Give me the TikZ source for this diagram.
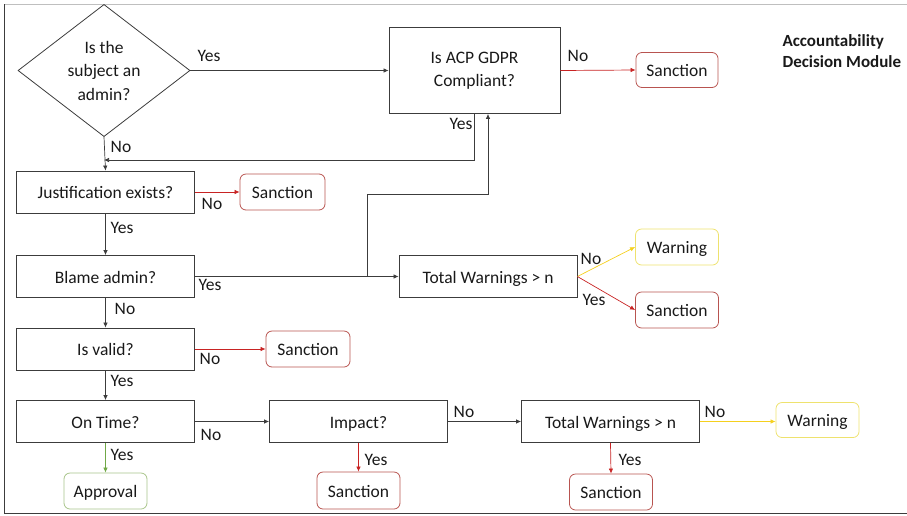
\documentclass[tikz,border=0pt]{standalone}
\usepackage{fontspec}
\setmainfont{Carlito}
\usetikzlibrary{shapes.geometric,arrows.meta}

\definecolor{sancred}{RGB}{184,84,80}
\definecolor{arrred}{RGB}{200,35,35}
\definecolor{warnyel}{RGB}{238,226,110}
\definecolor{arryel}{RGB}{245,208,30}
\definecolor{apgreen}{RGB}{168,196,138}
\definecolor{arrgreen}{RGB}{112,168,70}
\definecolor{boxgray}{RGB}{60,60,60}

\tikzset{
  txt/.style={font=\fontsize{17.5}{23.5}\selectfont, text=black!90},
  oneline/.style={text height=13pt, text depth=0pt},
  box/.style={txt, draw=boxgray, line width=0.8pt, minimum width=178pt, minimum height=42pt, align=center},
  decision/.style={txt, draw=boxgray, line width=0.8pt, diamond, inner sep=0pt, minimum width=172pt, minimum height=123pt, align=center},
  endbox/.style={txt, oneline, draw, line width=0.8pt, rounded corners=6pt, minimum width=83pt, minimum height=36pt},
  sanction/.style={endbox, draw=sancred},
  warning/.style={endbox, draw=warnyel},
  approval/.style={endbox, draw=apgreen},
  lbl/.style={txt, inner sep=0pt},
  arr/.style={draw=boxgray, line width=0.7pt, -{Latex[length=5pt,width=4.5pt]}},
  redarr/.style={arr, draw=arrred},
  yelarr/.style={arr, draw=arryel},
  greenarr/.style={arr, draw=arrgreen}
}

\begin{document}
\begin{tikzpicture}[x=1pt, y=-1pt]
  \useasboundingbox (0,0) rectangle (907,515);

  % frame
  \draw[black!25, line width=0.8pt] (4,4) -- (907,4);
  \draw[boxgray, line width=0.9pt] (4,4) -- (4,513) -- (907,513);

  % left column
  \node[decision] (admin) at (104,70.5) {Is the\\subject an\\admin?};
  \node[box, oneline] (justif) at (105.5,192) {Justification exists?};
  \node[box, oneline] (blame) at (105.5,276.5) {Blame admin?};
  \node[box, oneline] (valid) at (105.5,349) {Is valid?};
  \node[box, oneline] (ontime) at (105.5,421.5) {On Time?};
  \node[approval] (appr) at (105.5,491) {Approval};

  % upper right
  \node[box, minimum width=171pt, minimum height=86pt] (acp) at (474.5,70.5) {Is ACP GDPR\\Compliant?};
  \node[sanction, minimum width=82pt, minimum height=35pt] (sancA) at (677,70) {Sanction};
  \node[txt, font=\fontsize{17}{21}\selectfont\bfseries, align=left, anchor=west] (title) at (779,51) {Accountability\\Decision Module};

  \node[sanction, minimum width=85pt] (sancB) at (282.5,192) {Sanction};
  \node[box, oneline] (twA) at (488,276.5) {Total Warnings > n};
  \node[warning] (warnA) at (677,247) {Warning};
  \node[sanction] (sancC) at (677,310) {Sanction};
  \node[sanction, minimum width=84pt] (sancD) at (308,349) {Sanction};

  % bottom row
  \node[box, oneline] (impact) at (358.5,421.5) {Impact?};
  \node[box, oneline] (twB) at (610.5,421.5) {Total Warnings > n};
  \node[warning, minimum height=35pt] (warnB) at (817.5,420) {Warning};
  \node[sanction, minimum height=37pt] (sancE) at (358.5,490.5) {Sanction};
  \node[sanction] (sancF) at (611,492) {Sanction};

  \coordinate (split) at (367,276.5);
  \coordinate (bend) at (367,194);
  \coordinate (back) at (474.5,160);

  % connectors
  \draw[arr] (admin.east) -- (acp.west);
  \draw[arr] (admin.south) -- (justif.north);
  \draw[redarr] (acp.east) -- (sancA.west);
  \draw[arr] (acp.south) -- (back) -- (back -| admin.south);
  \draw[redarr] (justif.east) -- (sancB.west);
  \draw[arr] (justif.south) -- (blame.north);
  \draw[arr] (blame.east) -- (twA.west);
  \draw[arr] (split) -- (bend) -| (acp.south -| twA.north);
  \draw[yelarr] (twA.east) -- (warnA.west);
  \draw[redarr] (twA.east) -- (sancC.west);
  \draw[arr] (blame.south) -- (valid.north);
  \draw[redarr] (valid.east) -- (sancD.west);
  \draw[arr] (valid.south) -- (ontime.north);
  \draw[greenarr] (ontime.south) -- (appr.north);
  \draw[arr] (ontime.east) -- (impact.west);
  \draw[redarr] (impact.south) -- (sancE.north);
  \draw[arr] (impact.east) -- (twB.west);
  \draw[redarr] (twB.south) -- (sancF.north);
  \draw[yelarr] (twB.east) -- (twB.east -| warnB.west);

  % branch labels
  \node[lbl] (yAdmin) at (209,56) {Yes};
  \node[lbl] (nAdmin) at (121,147) {No};
  \node[lbl] (nAcp) at (578,56) {No};
  \node[lbl] (yAcp) at (461,124) {Yes};
  \node[lbl] (nJustif) at (212,204) {No};
  \node[lbl] (yJustif) at (122,228) {Yes};
  \node[lbl] (yBlame) at (210,285) {Yes};
  \node[lbl] (nBlame) at (125,309) {No};
  \node[lbl] (nTwA) at (591,259) {No};
  \node[lbl] (yTwA) at (594,300) {Yes};
  \node[lbl] (nValid) at (210,359) {No};
  \node[lbl] (yValid) at (122,381) {Yes};
  \node[lbl] (nOntime) at (211,435) {No};
  \node[lbl] (yOntime) at (122,455) {Yes};
  \node[lbl] (nImpact) at (464,412) {No};
  \node[lbl] (yImpact) at (376,460) {Yes};
  \node[lbl] (nTwB) at (715,412) {No};
  \node[lbl] (yTwB) at (630,460) {Yes};
\end{tikzpicture}
\end{document}
